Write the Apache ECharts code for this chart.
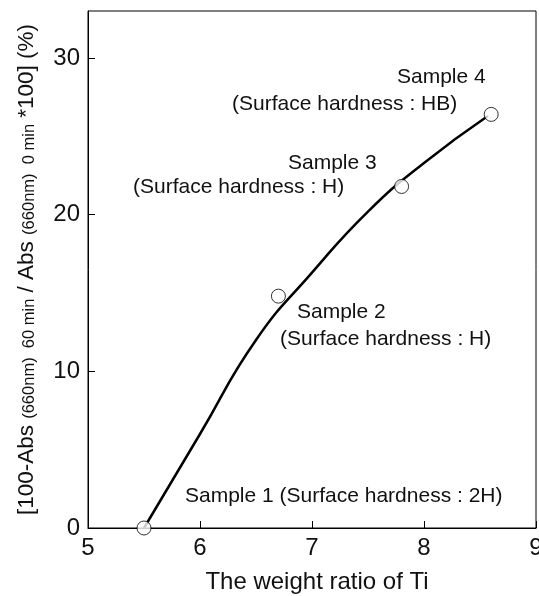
<!DOCTYPE html>
<html>
<head>
<meta charset="utf-8">
<script src="https://cdn.jsdelivr.net/npm/echarts@6/dist/echarts.min.js"></script>
<style>
html,body{margin:0;padding:0;background:#fff;}
#c{width:539px;height:596px;}
</style>
</head>
<body>
<div id="c"></div>
<script>
// Measured samples (weight ratio of Ti, % value)
var sampleX = [5.5, 6.7, 7.8, 8.6];
var sampleY = [0, 14.8, 21.8, 26.4];
// Fitted curve
var curveX = [5.5, 6.0, 6.5, 7.0, 7.5, 8.0, 8.57];
var curveY = [0, 6.0, 12.0, 16.3, 20.2, 23.3, 26.3];
// Axis ticks
var xTicks = [5, 6, 7, 8, 9];
var yTicks = [0, 10, 20, 30];
// Annotation texts
var labels = [
  'Sample 4', '(Surface hardness : HB)',
  'Sample 3', '(Surface hardness : H)',
  'Sample 2', '(Surface hardness : H)',
  'Sample 1 (Surface hardness : 2H)'
];

var FONT = '"Liberation Sans", Arial, Helvetica, sans-serif';
var chart = echarts.init(document.getElementById('c'), null, {renderer: 'canvas'});

function pairs(xs, ys) { return xs.map(function (x, i) { return [x, ys[i]]; }); }

var labelPos = [
  [397, 77], [232, 104], [288, 163], [133, 187], [297, 312], [280, 339], [185, 496]
];

chart.setOption({
  animation: false,
  backgroundColor: '#fff',
  grid: {left: 88, right: 3, top: 11, bottom: 68, show: true, borderColor: '#000', borderWidth: 1,
    containLabel: false, outerBoundsMode: 'none'},
  xAxis: {
    type: 'value', min: xTicks[0], max: xTicks[xTicks.length - 1], interval: 1,
    name: 'The weight ratio of Ti', nameLocation: 'middle', nameGap: 42,
    nameTextStyle: {fontSize: 24, fontFamily: FONT, color: '#111', padding: [0, 0, 0, 10]},
    axisLine: {show: true, lineStyle: {color: '#000', width: 1}},
    axisTick: {show: true, inside: true, length: 7, lineStyle: {color: '#000'}},
    axisLabel: {fontSize: 24, fontFamily: FONT, color: '#111', margin: 8},
    splitLine: {show: false}
  },
  yAxis: {
    type: 'value', min: yTicks[0], max: 33, interval: 10,
    name: '{m|[100-Abs }{s|(660nm)  60 min}{m| / Abs }{s|(660nm)  0 min}{m| *100] (%)}',
    nameLocation: 'middle', nameRotate: 90, nameGap: 50,
    nameTextStyle: {
      fontFamily: FONT, color: '#111',
      rich: {
        m: {fontSize: 22.5, fontFamily: FONT, color: '#111', lineHeight: 26, verticalAlign: 'bottom'},
        s: {fontSize: 16.5, fontFamily: FONT, color: '#111', lineHeight: 21, verticalAlign: 'bottom'}
      }
    },
    axisLine: {show: true, lineStyle: {color: '#000', width: 1}},
    axisTick: {show: true, inside: true, length: 7, lineStyle: {color: '#000'}},
    axisLabel: {fontSize: 24, fontFamily: FONT, color: '#111', margin: 8, showMaxLabel: false,
      formatter: function (v) { return yTicks.indexOf(v) >= 0 ? String(v) : ''; }},
    splitLine: {show: false}
  },
  series: [
    {
      type: 'line', data: pairs(curveX, curveY), smooth: 0.5,
      showSymbol: false, symbol: 'none',
      lineStyle: {color: '#000', width: 2.5}, z: 2, silent: true
    },
    {
      type: 'scatter', data: pairs(sampleX, sampleY), symbol: 'circle', symbolSize: 14,
      itemStyle: {color: '#fff', borderColor: '#000', borderWidth: 1}, z: 3, silent: true
    }
  ],
  graphic: labels.map(function (t, i) {
    return {
      type: 'text', x: labelPos[i][0], y: labelPos[i][1], z: 10,
      style: {text: t, fontSize: 21, fontFamily: FONT, fill: '#111', align: 'left', verticalAlign: 'middle'}
    };
  })
});
</script>
</body>
</html>
